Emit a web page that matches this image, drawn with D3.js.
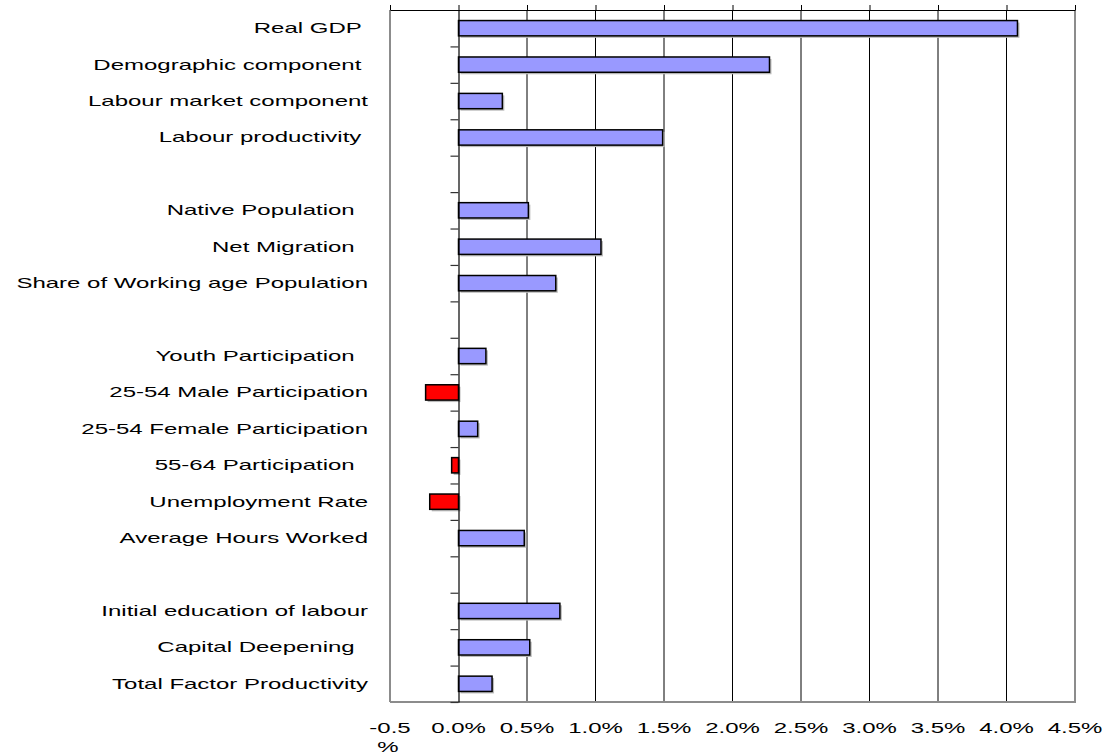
<!DOCTYPE html>
<html><head><meta charset="utf-8">
<script src="https://cdn.jsdelivr.net/npm/d3@7"></script>
<style>
body{margin:0;background:#fff;}
text{font-family:"Liberation Sans",Arial,sans-serif;white-space:pre;fill:#000;}
</style></head>
<body><svg id="c" width="1112" height="755"></svg>
<script>
const categories = ["Real GDP ","Demographic component ","Labour market component","Labour productivity ","",
  "Native Population  ","Net Migration  ","Share of Working age Population","",
  "Youth Participation  ","25-54 Male Participation","25-54 Female Participation","55-64 Participation  ","Unemployment Rate","Average Hours Worked","",
  "Initial education of labour","Capital Deepening  ","Total Factor Productivity"];
const values = [4.08,2.27,0.32,1.49,null,
  0.51,1.04,0.71,null,
  0.20,-0.24,0.14,-0.05,-0.21,0.48,null,
  0.74,0.52,0.245];
const xTicks = [-0.5,0,0.5,1.0,1.5,2.0,2.5,3.0,3.5,4.0,4.5];
const xTickLabels = ["-0.5","0.0%","0.5%","1.0%","1.5%","2.0%","2.5%","3.0%","3.5%","4.0%","4.5%"];

const svg = d3.select("#c");
const L=390, R=1075, T=10, B=702;
const SX=1.6, FS=15;
const x = d3.scaleLinear().domain([-0.5,4.5]).range([L,R]);
const idx = d3.range(categories.length);
const pad = 0.58;
const y = d3.scaleBand().domain(idx).range([T,B]).paddingInner(pad).paddingOuter(pad/2);
const step = y.step();

// gridlines
svg.append("g").selectAll("line").data(xTicks.filter(t=>t>0 && t<4.5)).join("line")
  .attr("x1",d=>x(d)).attr("x2",d=>x(d)).attr("y1",T).attr("y2",B)
  .attr("stroke","#000").attr("stroke-width",1);

// frame
svg.append("line").attr("x1",L).attr("x2",L).attr("y1",T).attr("y2",B).attr("stroke","#8c8c8c").attr("stroke-width",2);
svg.append("line").attr("x1",R).attr("x2",R).attr("y1",T).attr("y2",B).attr("stroke","#8c8c8c").attr("stroke-width",2);
svg.append("line").attr("x1",L).attr("x2",R+1).attr("y1",B).attr("y2",B).attr("stroke","#8c8c8c").attr("stroke-width",2);

// top axis line with ticks
const topAxis = d3.axisTop(x).tickValues(xTicks).tickSize(5).tickFormat("").tickSizeOuter(0);
const gt = svg.append("g").attr("transform",`translate(0,${T})`).call(topAxis);
gt.selectAll("path").attr("stroke","#000").attr("stroke-width",1.2);
gt.selectAll("line").attr("stroke","#000");

// bottom labels
const gl = svg.append("g");
xTicks.forEach((t,i)=>{
  const g = gl.append("g").attr("transform",`translate(${x(t)},733)`);
  g.append("text").attr("transform",`scale(${SX},1)`).attr("text-anchor","middle").attr("font-size",FS).text(xTickLabels[i]);
  if(i===0){
    g.append("text").attr("transform",`translate(-2,19) scale(${SX},1)`).attr("text-anchor","middle").attr("font-size",FS).text("%");
  }
});

// bars shadow
const bars = idx.filter(i=>values[i]!==null);
svg.append("g").selectAll("rect").data(bars).join("rect")
  .attr("x",i=>Math.min(x(0),x(values[i]))+2).attr("y",i=>y(i)+2)
  .attr("width",i=>Math.abs(x(values[i])-x(0))).attr("height",y.bandwidth())
  .attr("fill","#bbb");
svg.append("g").selectAll("rect").data(bars).join("rect")
  .attr("x",i=>Math.min(x(0),x(values[i]))).attr("y",i=>y(i))
  .attr("width",i=>Math.abs(x(values[i])-x(0))).attr("height",y.bandwidth())
  .attr("fill",i=>values[i]<0?"#ff0000":"#9999ff").attr("stroke","#000").attr("stroke-width",1.5);

// zero axis with category boundary ticks
const yb = d3.scaleLinear().domain([0,categories.length]).range([T,B]);
const ga = svg.append("g").attr("transform",`translate(${x(0)},0)`)
  .call(d3.axisLeft(yb).tickValues(d3.range(1,categories.length+1)).tickSize(8).tickFormat("").tickSizeOuter(0));
ga.selectAll("path").attr("stroke","#000").attr("stroke-width",1.2);
ga.selectAll("line").attr("stroke","#333").attr("stroke-width",1.2);

// category labels
const gc = svg.append("g");
idx.forEach(i=>{
  if(!categories[i]) return;
  gc.append("g").attr("transform",`translate(368,${y(i)+y.bandwidth()/2+5})`)
    .append("text").attr("transform",`scale(${SX},1)`).attr("text-anchor","end").attr("font-size",FS).text(categories[i]);
});
</script></body></html>
